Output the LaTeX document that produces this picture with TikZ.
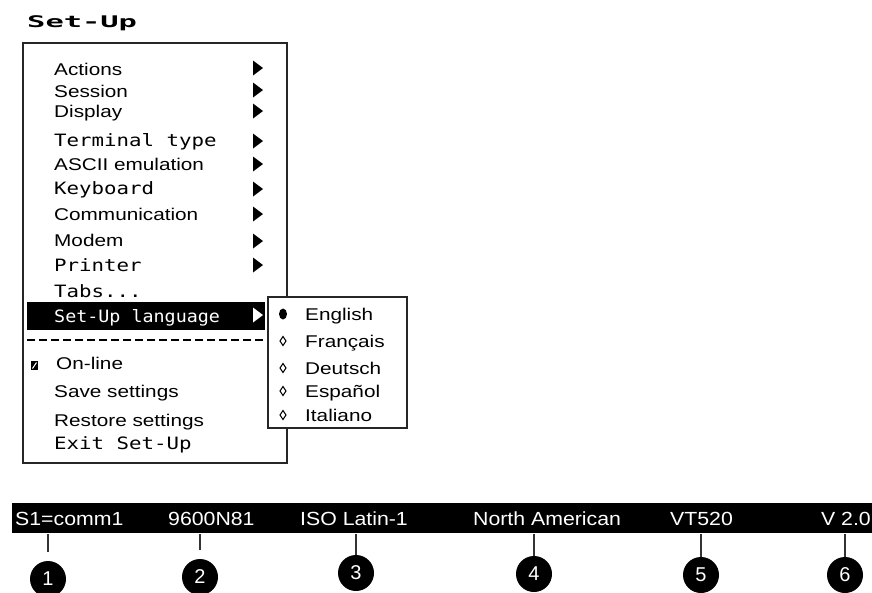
\documentclass[tikz,border=0pt]{standalone}
\usepackage{fontspec}
\setmainfont{Liberation Sans}
\newfontfamily\menusans[FakeStretch=1.22]{Liberation Sans}
\newfontfamily\statussans[FakeStretch=1.12]{Liberation Sans}
\newfontfamily\menumono[FakeStretch=1.22]{DejaVu Sans Mono}
\newfontfamily\langmono[FakeStretch=1.08]{DejaVu Sans Mono}
\newfontfamily\titlemono[FakeStretch=1.9]{DejaVu Sans Mono Bold}
\usetikzlibrary{positioning}

\begin{document}
\begin{tikzpicture}[x=1pt,y=-1pt,
	item/.style={anchor=base west, inner sep=0pt, font=\menusans\fontsize{17}{20}\selectfont},
	monoitem/.style={item, font=\menumono\fontsize{17}{20}\selectfont},
	menubox/.style={draw=black!85, line width=1.6pt},
	status/.style={anchor=base west, inner sep=0pt, text=white, font=\statussans\fontsize{19}{22}\selectfont},
	callout/.style={circle, fill=black, text=white, minimum size=36pt, inner sep=0pt, font=\fontsize{20}{22}\selectfont},
	tick/.style={draw=black!80, line width=1.6pt}]
	
	\useasboundingbox (0,0) rectangle (872,592);
	
	% title
	\node[anchor=base west, inner sep=0pt, font=\titlemono\fontsize{16}{18}\selectfont] (title) at (27,27) {Set-Up};
	
	% main menu
	\draw[menubox] (23,43) rectangle (287,463);
	\fill[black] (27,302) rectangle (265,330);
	
	\node[item] (actions) at (54,75) {Actions};
	\node[item] (session) at (54,97) {Session};
	\node[item] (display) at (54,117) {Display};
	\node[monoitem] (terminal) at (54,146) {Terminal type};
	\node[item] (ascii) at (54,170) {ASCII emulation};
	\node[monoitem] (keyboard) at (54,194) {Keyboard};
	\node[item] (comm) at (54,220) {Communication};
	\node[item] (modem) at (54,246) {Modem};
	\node[monoitem] (printer) at (54,271) {Printer};
	\node[monoitem] (tabs) at (54,297) {Tabs...};
	\node[item, font=\langmono\fontsize{17}{20}\selectfont, text=white] (language) at (54,322) {Set-Up language};
	\node[item] (online) at (56,369) {On-line};
	\node[item] (save) at (54,397) {Save settings};
	\node[item] (restore) at (54,426) {Restore settings};
	\node[monoitem] (exit) at (54,449) {Exit Set-Up};
	
	\foreach \y in {68,90,111,141,164,189,214,241,265}
		\fill[black] (253,\y-7.5) -- (263,\y) -- (253,\y+7.5) -- cycle;
	\fill[white] (253,307.5) -- (263,315) -- (253,322.5) -- cycle;
	
	\draw[line width=1.5pt, dash pattern=on 8pt off 4pt] (27,340) -- (265,340);
	
	% on-line check box
	\fill[black] (31,361) rectangle (38,370);
	\draw[white, line width=1pt] (32.5,368.5) -- (36.5,362.5);
	
	% language submenu
	\draw[menubox, fill=white] (268,297) rectangle (407,428);
	\node[item] (english) at (305,320) {English};
	\node[item] (francais) at (305,347) {Français};
	\node[item] (deutsch) at (305,374) {Deutsch};
	\node[item] (espanol) at (305,397) {Español};
	\node[item] (italiano) at (305,421) {Italiano};
	
	\fill[black] (283,314) ellipse (4pt and 5.5pt);
	\foreach \y in {341,368,391,415}
		\draw[line width=1pt] (283,\y-4.5) -- (286,\y) -- (283,\y+4.5) -- (280,\y) -- cycle;
	
	% status line
	\fill[black] (12,503) rectangle (872,533);
	\node[status] (s1) at (15,525) {S1=comm1};
	\node[status] (s2) at (168,525) {9600N81};
	\node[status] (s3) at (300,525) {ISO Latin-1};
	\node[status] (s4) at (473,525) {North American};
	\node[status] (s5) at (670,525) {VT520};
	\node[status, anchor=base east] (s6) at (871,525) {V 2.0};
	
	% callouts
	\foreach \n/\x/\y/\g in {1/48/579/9,2/200/577/9,3/356/573/0,4/534/574/0,5/701/575/0,6/845/575/0}{
		\node[callout] (c\n) at (\x,\y) {\n};
		\coordinate (t\n) at (\x,534);
		\draw[tick, shorten >=\g pt] (t\n) -- (c\n.north);
	}
	
\end{tikzpicture}
\end{document}
